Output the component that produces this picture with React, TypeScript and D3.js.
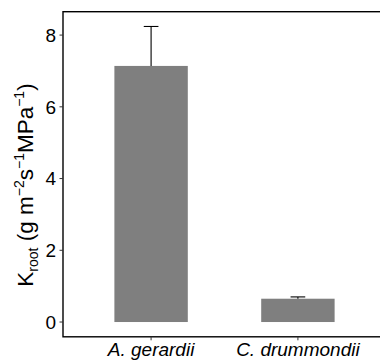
import React, { useRef, useEffect } from 'react'
import * as d3 from 'd3'

const species = ['A. gerardii', 'C. drummondii']
const kroot = [7.14, 0.65]
const upper = [8.24, 0.7]
const yTicks = [0, 2, 4, 6, 8]

const width = 380
const height = 361

export default function App() {
  const ref = useRef<SVGSVGElement>(null)

  useEffect(() => {
    const svg = d3.select(ref.current)
    svg.selectAll('*').remove()

    const panel = { left: 63, right: 386, top: 11.7, bottom: 336.8 }

    // ggplot style: 5% expansion on the continuous axis
    const yMax = d3.max(upper) as number
    const pad = yMax * 0.05
    const y = d3
      .scaleLinear()
      .domain([-pad, yMax + pad])
      .range([panel.bottom, panel.top])

    const x = d3
      .scaleBand<string>()
      .domain(species)
      .range([panel.left, panel.right])
      .paddingInner(0.5)
      .paddingOuter(0.35)

    const font = '"Liberation Sans", Arial, Helvetica, sans-serif'
    const g = svg.append('g')

    // bars
    g.selectAll('rect.bar')
      .data(species)
      .enter()
      .append('rect')
      .attr('class', 'bar')
      .attr('x', (d) => x(d) as number)
      .attr('width', x.bandwidth())
      .attr('y', (d, i) => y(kroot[i]))
      .attr('height', (d, i) => y(0) - y(kroot[i]))
      .attr('fill', '#7f7f7f')

    // error bars (upper half only)
    const capW = x.bandwidth() * 0.2
    species.forEach((d, i) => {
      const cx = (x(d) as number) + x.bandwidth() / 2
      g.append('line')
        .attr('x1', cx)
        .attr('x2', cx)
        .attr('y1', y(kroot[i]))
        .attr('y2', y(upper[i]))
        .attr('stroke', '#000')
        .attr('stroke-width', 1.1)
      g.append('line')
        .attr('x1', cx - capW / 2)
        .attr('x2', cx + capW / 2)
        .attr('y1', y(upper[i]))
        .attr('y2', y(upper[i]))
        .attr('stroke', '#000')
        .attr('stroke-width', 1.1)
    })

    // panel border
    g.append('rect')
      .attr('x', panel.left)
      .attr('y', panel.top)
      .attr('width', panel.right - panel.left)
      .attr('height', panel.bottom - panel.top)
      .attr('fill', 'none')
      .attr('stroke', '#000')
      .attr('stroke-width', 1.4)

    // y ticks + labels
    yTicks.forEach((t) => {
      g.append('line')
        .attr('x1', panel.left - 3.5)
        .attr('x2', panel.left)
        .attr('y1', y(t))
        .attr('y2', y(t))
        .attr('stroke', '#333')
        .attr('stroke-width', 1)
      g.append('text')
        .attr('x', panel.left - 7)
        .attr('y', y(t))
        .attr('dy', '0.36em')
        .attr('text-anchor', 'end')
        .attr('font-family', font)
        .attr('font-size', 19)
        .attr('fill', '#000')
        .text(t)
    })

    // x ticks + labels
    species.forEach((d) => {
      const cx = (x(d) as number) + x.bandwidth() / 2
      g.append('line')
        .attr('x1', cx)
        .attr('x2', cx)
        .attr('y1', panel.bottom)
        .attr('y2', panel.bottom + 3.5)
        .attr('stroke', '#333')
        .attr('stroke-width', 1)
      g.append('text')
        .attr('x', cx)
        .attr('y', 356)
        .attr('text-anchor', 'middle')
        .attr('font-family', font)
        .attr('font-style', 'italic')
        .attr('font-size', 19)
        .attr('fill', '#000')
        .text(d)
    })

    // y axis title
    const title = g
      .append('text')
      .attr('transform', `translate(33, 185) rotate(-90)`)
      .attr('text-anchor', 'middle')
      .attr('font-family', font)
      .attr('font-size', 22.5)
      .attr('fill', '#000')
    const small = 14
    title.append('tspan').text('K')
    title.append('tspan').attr('font-size', small).attr('dy', 5).text('root')
    title.append('tspan').attr('dy', -5).text(' (g m')
    title.append('tspan').attr('font-size', small).attr('dy', -9).text('\u22122')
    title.append('tspan').attr('dy', 9).text('s')
    title.append('tspan').attr('font-size', small).attr('dy', -9).text('\u22121')
    title.append('tspan').attr('dy', 9).text('MPa')
    title.append('tspan').attr('font-size', small).attr('dy', -9).text('\u22121')
    title.append('tspan').attr('dy', 9).text(')')
  }, [])

  return (
    <svg
      ref={ref}
      width={width}
      height={height}
      style={{ position: 'absolute', left: 0, top: 0, background: '#fff' }}
    />
  )
}
